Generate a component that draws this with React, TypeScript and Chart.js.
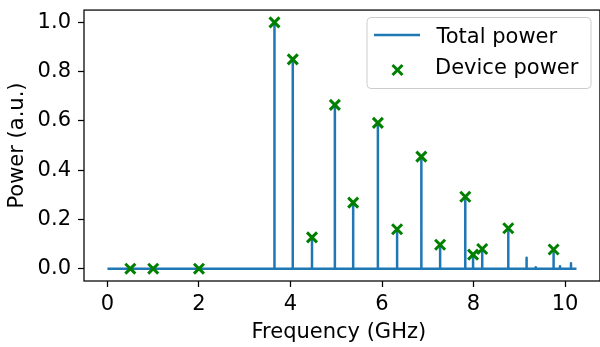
import { useEffect, useRef } from "react";
import { Chart, registerables } from "chart.js";
Chart.register(...registerables);

// ---- data ----
const spikeFreqs = [3.65, 4.05, 4.47, 4.97, 5.37, 5.91, 6.33, 6.86, 7.27, 7.82, 7.99, 8.19, 8.76, 9.16, 9.36, 9.75, 9.89, 10.13];
const spikePowers = [1.0, 0.85, 0.127, 0.665, 0.268, 0.592, 0.16, 0.455, 0.097, 0.292, 0.057, 0.08, 0.164, 0.044, 0.006, 0.078, 0.01, 0.022];
const baselineStart = 0;
const baselineEnd = 10.25;

const deviceFreqs = [0.5, 1.0, 2.0, 3.65, 4.05, 4.47, 4.97, 5.37, 5.91, 6.33, 6.86, 7.27, 7.82, 7.99, 8.19, 8.76, 9.75];
const devicePowers = [0, 0, 0, 1.0, 0.85, 0.127, 0.665, 0.268, 0.592, 0.16, 0.455, 0.097, 0.292, 0.057, 0.08, 0.164, 0.078];

const xTickValues = [0, 2, 4, 6, 8, 10];
const yTickValues = [0, 0.2, 0.4, 0.6, 0.8, 1.0];

const xLabel = "Frequency (GHz)";
const yLabel = "Power (a.u.)";
const totalLabel = "Total power";
const deviceLabel = "Device power";

const BLUE = "#1f77b4";
const GREEN = "#008000";
const FONT = '"DejaVu Sans", sans-serif';
const FS = 21;

function buildTotal() {
  const pts: { x: number; y: number }[] = [{ x: baselineStart, y: 0 }];
  spikeFreqs.forEach((f, i) => {
    pts.push({ x: f, y: 0 }, { x: f, y: spikePowers[i] }, { x: f, y: 0 });
  });
  pts.push({ x: baselineEnd, y: 0 });
  return pts;
}

function zeroPad(s: any) {
  s.paddingTop = 0;
  s.paddingBottom = 0;
  s.paddingLeft = 0;
  s.paddingRight = 0;
}

const framePlugin = {
  id: "frameAndLegend",
  afterDraw(chart: any) {
    const { ctx, chartArea } = chart;
    ctx.save();
    // spines
    ctx.strokeStyle = "#000";
    ctx.lineWidth = 1.25;
    ctx.strokeRect(chartArea.left, chartArea.top, chartArea.right - chartArea.left, chartArea.bottom - chartArea.top);

    // x-axis title
    ctx.fillStyle = "#000";
    ctx.font = FS + "px " + FONT;
    ctx.textBaseline = "alphabetic";
    ctx.textAlign = "left";
    ctx.fillText(xLabel, 251.5, 337.7);

    // legend
    const ds = chart.data.datasets;
    const bx = 367, by = 17.5, bw = 224, bh = 71;
    ctx.beginPath();
    (ctx as any).roundRect(bx, by, bw, bh, 4);
    ctx.fillStyle = "rgba(255,255,255,0.8)";
    ctx.fill();
    ctx.strokeStyle = "#cccccc";
    ctx.lineWidth = 1;
    ctx.stroke();

    const lineDs = ds[1];
    const markDs = ds[0];
    ctx.strokeStyle = lineDs.borderColor;
    ctx.lineWidth = lineDs.borderWidth;
    ctx.beginPath();
    ctx.moveTo(374, 35);
    ctx.lineTo(420, 35);
    ctx.stroke();

    ctx.strokeStyle = markDs.pointBorderColor;
    ctx.lineWidth = markDs.pointBorderWidth;
    const cx = 397.5, cy = 70, d = 5;
    ctx.beginPath();
    ctx.moveTo(cx - d, cy - d);
    ctx.lineTo(cx + d, cy + d);
    ctx.moveTo(cx - d, cy + d);
    ctx.lineTo(cx + d, cy - d);
    ctx.stroke();

    ctx.fillStyle = "#000";
    ctx.font = FS + "px " + FONT;
    ctx.textBaseline = "alphabetic";
    ctx.textAlign = "left";
    ctx.fillText(lineDs.label, 436.5, 43.3);
    ctx.fillText(markDs.label, 435, 73.7);
    ctx.restore();
  },
};

export default function App() {
  const ref = useRef<HTMLCanvasElement>(null);
  useEffect(() => {
    if (!ref.current) return;
    const chart = new Chart(ref.current, {
      type: "line",
      data: {
        datasets: [
          {
            label: deviceLabel,
            data: deviceFreqs.map((f, i) => ({ x: f, y: devicePowers[i] })),
            showLine: false,
            pointStyle: "crossRot",
            pointRadius: 7.07,
            pointBorderWidth: 3,
            pointBorderColor: GREEN,
            pointBackgroundColor: GREEN,
            order: 0,
          } as any,
          {
            label: totalLabel,
            data: buildTotal(),
            borderColor: BLUE,
            borderWidth: 2.5,
            borderJoinStyle: "round",
            pointRadius: 0,
            tension: 0,
            order: 1,
          } as any,
        ],
      },
      options: {
        animation: false,
        responsive: false,
        devicePixelRatio: 1,
        layout: { padding: { top: 7, right: 8.5, left: 0, bottom: 0 } },
        plugins: { legend: { display: false }, tooltip: { enabled: false } },
        scales: {
          x: {
            type: "linear",
            min: -0.5125,
            max: 10.7625,
            afterFit: (s: any) => { s.height = 66; zeroPad(s); },
            afterBuildTicks: (s: any) => { s.ticks = xTickValues.map((v) => ({ value: v })); },
            grid: { drawOnChartArea: false, drawTicks: true, tickLength: 6, tickColor: "#000", tickWidth: 1.25 },
            border: { display: false },
            ticks: { color: "#000", font: { family: FONT, size: FS }, padding: 4.5, maxRotation: 0, callback: (v: any) => String(v) },
            title: { display: false, text: xLabel },
          },
          y: {
            type: "linear",
            min: -0.05,
            max: 1.05,
            afterFit: (s: any) => { s.width = 84; zeroPad(s); },
            afterBuildTicks: (s: any) => { s.ticks = yTickValues.map((v) => ({ value: v })); },
            grid: { drawOnChartArea: false, drawTicks: true, tickLength: 6, tickColor: "#000", tickWidth: 1.25 },
            border: { display: false },
            ticks: { color: "#000", font: { family: FONT, size: FS }, padding: 7, callback: (v: any) => Number(v).toFixed(1) },
            title: { display: true, text: yLabel, color: "#000", font: { family: FONT, size: FS }, padding: { top: 5, bottom: 0 } },
          },
        },
      },
      plugins: [framePlugin],
    } as any);
    return () => chart.destroy();
  }, []);
  return (
    <div style={{ position: "fixed", left: 0, top: 0, width: 600, height: 347, overflow: "hidden", background: "#fff" }}>
      <canvas ref={ref} width={610} height={347} style={{ display: "block" }} />
    </div>
  );
}
